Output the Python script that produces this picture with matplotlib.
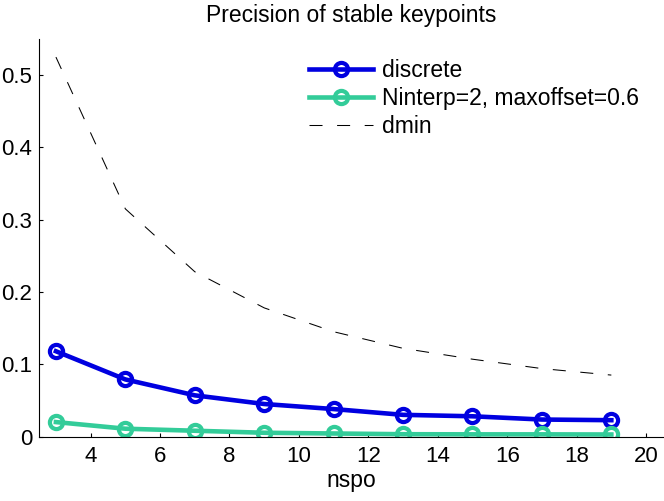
import matplotlib
matplotlib.use("Agg")
import matplotlib.pyplot as plt

nspo = [3, 5, 7, 9, 11, 13, 15, 17, 19]
discrete = [0.118, 0.079, 0.057, 0.045, 0.038, 0.030, 0.028, 0.0235, 0.0226]
ninterp = [0.020, 0.0108, 0.0080, 0.0052, 0.0042, 0.0032, 0.0030, 0.0030, 0.0028]
dmin = [0.525, 0.315, 0.228, 0.178, 0.145, 0.122, 0.107, 0.094, 0.085]
xticks = [4, 6, 8, 10, 12, 14, 16, 18, 20]
yticks = [0, 0.1, 0.2, 0.3, 0.4, 0.5]
ytick_labels = ["0", "0.1", "0.2", "0.3", "0.4", "0.5"]

plt.rcParams['font.family'] = ['Liberation Sans', 'DejaVu Sans']

fig = plt.figure(figsize=(6.64, 5.01), dpi=100)
ax = fig.add_axes([0.0581, 0.1287, 0.941, 0.7934])

blue = '#0000E0'
green = '#33CC99'
ax.plot(nspo, discrete, '-o', color=blue, lw=3.3, ms=9.5, mew=3.0,
        mfc='none', mec=blue, label='discrete')
ax.plot(nspo, ninterp, '-o', color=green, lw=3.3, ms=9.5, mew=3.0,
        mfc='none', mec=green, label='Ninterp=2, maxoffset=0.6')
ax.plot(nspo, dmin, color='black', lw=0.75, dashes=(12.5, 14), label='dmin')

ax.set_xlim(2.5, 20.5)
ax.set_ylim(0, 0.55)
ax.set_xticks(xticks)
ax.set_yticks(yticks)
ax.set_yticklabels(ytick_labels)
ax.tick_params(direction='in', length=3, width=0.8, labelsize=16)
ax.tick_params(axis='x', pad=7)
ax.tick_params(axis='y', pad=4.6)
for s in ['top', 'right']:
    ax.spines[s].set_visible(False)
for s in ['left', 'bottom']:
    ax.spines[s].set_linewidth(0.8)

ax.set_title('Precision of stable keypoints', fontsize=16.5, pad=12)
ax.set_xlabel('nspo', fontsize=16.5, labelpad=1)

ax.legend(loc='upper left', bbox_to_anchor=(309 / 664, 1 - 59 / 501),
          bbox_transform=fig.transFigure, frameon=False,
          fontsize=16.5, handlelength=2.8, handletextpad=0.4, labelspacing=0.22,
          borderpad=0, borderaxespad=0)

fig.savefig('out.png', dpi=100)
